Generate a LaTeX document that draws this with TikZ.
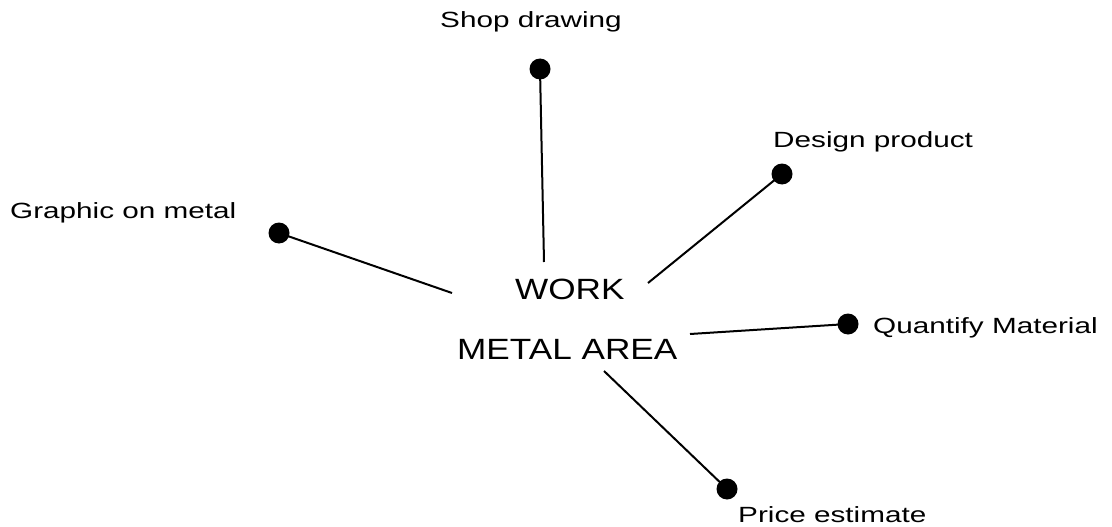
\documentclass[tikz,border=0pt]{standalone}
\usepackage{fontspec}
\setmainfont{Liberation Sans}
\newfontfamily\labfont[FakeStretch=1.35]{Liberation Sans}
\newfontfamily\bigfont[FakeStretch=1.2]{Liberation Sans}
\begin{document}
\begin{tikzpicture}[x=1pt,y=-1pt,
  dot/.style={circle,fill=black,inner sep=0pt,minimum size=21pt},
  lab/.style={anchor=base west,inner sep=0pt,font=\labfont\fontsize{22}{26}\selectfont},
  big/.style={anchor=base west,inner sep=0pt,font=\bigfont\fontsize{29.3}{34}\selectfont},
  spoke/.style={line width=2pt}]
\useasboundingbox (0,0) rectangle (1112,527);
% centre text
\node[big] (work) at (515,299) {WORK};
\node[big] (metal) at (457,359) {METAL AREA};
% dots
\node[dot] (dshop) at (540,69) {};
\node[dot] (ddesign) at (782,174) {};
\node[dot] (dgraphic) at (279,233) {};
\node[dot] (dquant) at (848,324) {};
\node[dot] (dprice) at (727,489) {};
% labels
\node[lab] (lshop) at (440,28) {Shop drawing};
\node[lab] (ldesign) at (773,147) {Design product};
\node[lab] (lgraphic) at (10,218) {Graphic on metal};
\node[lab] (lquant) at (873,333) {Quantify Material};
\node[lab] (lprice) at (738,522) {Price estimate};
% spoke ends
\coordinate (eshop) at (544,262);
\coordinate (edesign) at (648,283);
\coordinate (egraphic) at (452,293);
\coordinate (equant) at (690,334);
\coordinate (eprice) at (604,371);
% spokes
\draw[spoke] (dshop.center) -- (eshop);
\draw[spoke] (ddesign.center) -- (edesign);
\draw[spoke] (dgraphic.center) -- (egraphic);
\draw[spoke] (dquant.center) -- (equant);
\draw[spoke] (dprice.center) -- (eprice);
\end{tikzpicture}
\end{document}
